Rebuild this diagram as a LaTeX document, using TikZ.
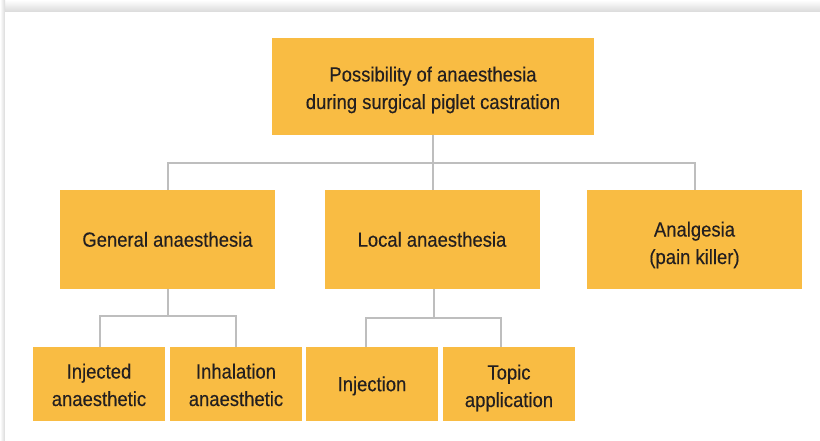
\documentclass[tikz,border=0pt]{standalone}
\usepackage{fontspec}
\setmainfont[FakeStretch=0.9,FakeBold=0.3]{Liberation Sans}
\definecolor{boxfill}{HTML}{F9BC43}
\definecolor{linegray}{HTML}{BEBEBE}
\definecolor{txt}{HTML}{231F20}
\definecolor{shade}{HTML}{DADADA}
\begin{document}
\begin{tikzpicture}[x=1pt,y=-1pt,
  boxstyle/.style={fill=boxfill, draw=none, inner sep=0pt, align=center, text=txt,
    font=\fontsize{20.5}{27.5}\selectfont, anchor=center},
  bigbox/.style={boxstyle, minimum width=215pt, minimum height=99pt},
  smallbox/.style={boxstyle, minimum width=132pt, minimum height=74pt},
  oneline/.style={text height=15pt, text depth=0.6pt},
  twoline/.style={text height=#1, text depth=0pt},
  conn/.style={draw=linegray, line width=2pt}]
\useasboundingbox (0,0) rectangle (820,441);
\fill[white] (0,0) rectangle (820,441);
\shade[top color=white, bottom color=shade] (0,0) rectangle (820,12);
\shade[left color=white, right color=shade] (0,0) rectangle (5,441);
\fill[white] (5,12) rectangle (820,441);

\node[boxstyle, twoline=45.4pt, minimum width=322pt, minimum height=97pt] (top) at (433,86.3)
  {Possibility of anaesthesia\\during surgical piglet castration};
\node[bigbox, oneline] (gen) at (167.5,239.5) {General anaesthesia};
\node[bigbox, oneline] (loc) at (432,239.5) {Local anaesthesia};
\node[bigbox, twoline=49pt] (ana) at (694.5,239.5) {Analgesia\\(pain killer)};
\node[smallbox, twoline=44pt] (injd) at (99,384) {Injected\\anaesthetic};
\node[smallbox, twoline=44pt] (inha) at (236,384) {Inhalation\\anaesthetic};
\node[smallbox, oneline] (injn) at (372,384) {Injection};
\node[smallbox, twoline=46pt] (topic) at (509,384) {Topic\\application};

\coordinate (j1) at (433,163.5);
\coordinate (j2) at (167.5,316);
\coordinate (j3) at (433.5,317.7);

\draw[conn] (top.south) -- (j1);
\draw[conn] (j1) -- (j1 |- loc.north);
\draw[conn] (gen.north) |- (j1) -| (ana.north);

\draw[conn] (gen.south) -- (j2);
\draw[conn] ([xshift=1pt]injd.north) |- (j2) -| (inha.north);

\draw[conn] (j3 |- loc.south) -- (j3);
\draw[conn] ([xshift=-6pt]injn.north) |- (j3) -| ([xshift=-8pt]topic.north);
\end{tikzpicture}
\end{document}
